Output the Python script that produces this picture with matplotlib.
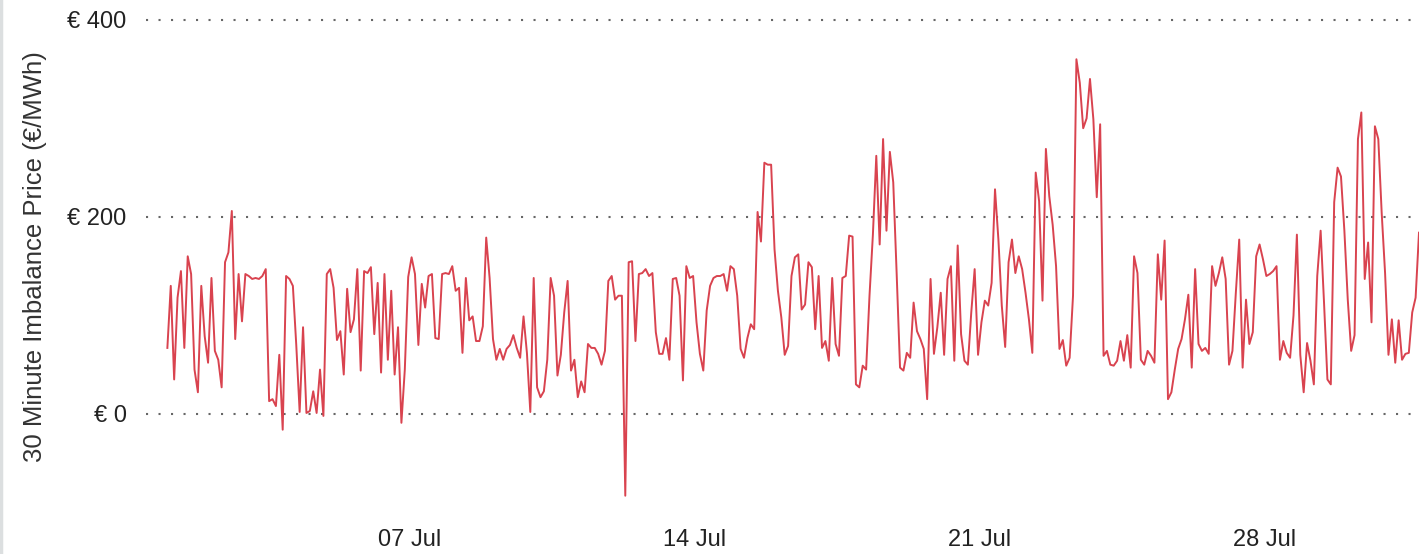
import pandas as pd
import matplotlib.pyplot as plt

# 30 minute imbalance price, every 2 hours (EUR/MWh)
start = "2023-07-01 01:00"
step = "2h"
prices = [
    67, 130, 35, 118, 145, 67, 160, 142, 45, 22, 130, 79, 52, 138, 64, 55,
    27, 154, 164, 206, 76, 142, 94, 142, 140, 137, 138, 137, 140, 147, 13, 15,
    8, 60, -16, 140, 137, 130, 70, 2, 88, 1, 3, 23, 1, 45, -2, 142,
    147, 128, 75, 84, 40, 127, 83, 96, 147, 44, 145, 143, 149, 81, 133, 42,
    142, 55,
    125, 40, 88, -9, 45, 139, 159, 142, 70, 132, 108, 140, 142, 77, 76, 142,
    143, 142, 150, 125, 128, 62, 138, 95, 99, 74, 74, 89, 179, 138, 76, 55,
    66, 55,
    66, 70, 80, 67, 57, 99, 62, 2, 138, 27, 17, 23, 55, 138, 120, 39,
    60, 103, 135, 44, 55, 17, 33, 22, 71, 67, 67, 61, 50, 64, 135, 140,
    116, 120,
    120, -83, 154, 155, 74, 142, 143, 147, 140, 143, 83, 61, 61, 77, 55, 137,
    138, 120, 34, 150, 138, 140, 93, 61, 44, 105, 130, 138, 140, 140, 142, 125,
    150, 147,
    120, 66, 57, 77, 91, 86, 205, 175, 255, 253, 253, 167, 125, 98, 60, 69,
    140, 159, 162, 106, 111, 154, 149, 86, 140, 67, 74, 54, 138, 71, 59, 138,
    140, 181,
    180, 30, 27, 49, 45, 120, 182, 262, 172, 279, 186, 266, 235, 143, 47, 44,
    62, 57, 113, 84, 76, 66, 15, 137, 61, 88, 123, 60, 137, 150, 54, 171,
    81, 54,
    50, 103, 147, 60, 93, 115, 110, 133, 228, 177, 110, 68, 154, 177, 143, 160,
    147, 123, 96, 62, 245, 216, 115, 269, 221, 192, 150, 66, 75, 49, 57, 120,
    360, 336,
    290, 300, 340, 299, 220, 294, 59, 64, 50, 49, 54, 74, 54, 80, 47, 160,
    143, 55, 50, 64, 59, 52, 162, 116, 176, 15, 22, 45, 66, 76, 96, 121,
    47, 147,
    71, 64, 67, 61, 150, 130, 143, 159, 137, 50, 64, 123, 177, 47, 116, 71,
    83, 160, 172, 157, 140, 142, 145, 150, 55, 74, 62, 57, 100, 182, 60, 22,
    72, 54,
    30, 140, 186, 113, 35, 30, 215, 250, 241, 186, 116, 64, 80, 279, 306, 137,
    174, 93, 292, 279, 204, 143, 60, 96, 52, 95, 55, 61, 62, 103, 118, 184,
]

y_ticks = [0, 200, 400]
y_labels = ["€ 0", "€ 200", "€ 400"]
x_ticks = ["2023-07-07", "2023-07-14", "2023-07-21", "2023-07-28"]
x_labels = ["07 Jul", "14 Jul", "21 Jul", "28 Jul"]

times = pd.date_range(start, periods=len(prices), freq=step)

plt.rcParams['font.family'] = ['Liberation Sans', 'DejaVu Sans']

fig = plt.figure(figsize=(14.19, 5.54), dpi=100)
ax = fig.add_axes([146 / 1419, 1 - 510 / 554, 1 - 146 / 1419, 500 / 554])

ax.plot(times, prices, color='#d9434f', lw=1.4)

ax.set_xlim(pd.Timestamp("2023-06-30 12:24"), times[-1])
ax.set_ylim(-97.5, 410)

ax.set_yticks(y_ticks)
ax.set_yticklabels(y_labels)
ax.set_xticks(pd.to_datetime(x_ticks))
ax.set_xticklabels(x_labels)
ax.tick_params(axis='both', length=0, labelsize=17, colors='#222222')
ax.tick_params(axis='y', pad=14)
ax.tick_params(axis='x', pad=14)

ax.grid(axis='y', color='#666666', linestyle=(0, (1, 5)), linewidth=1.5)
ax.grid(axis='x', visible=False)
ax.set_axisbelow(True)
for s in ax.spines.values():
    s.set_visible(False)

fig.text(35 / 1419, 1 - 257 / 554, "30 Minute Imbalance Price (€/MWh)",
         rotation=90, ha='center', va='center', fontsize=18.5, color='#333333')

# thin grey border on the left edge
fig.add_artist(plt.Line2D([0.001, 0.001], [0, 1], transform=fig.transFigure,
                          color='#dcdfe0', lw=2.5))

plt.savefig("out.png", dpi=100)
